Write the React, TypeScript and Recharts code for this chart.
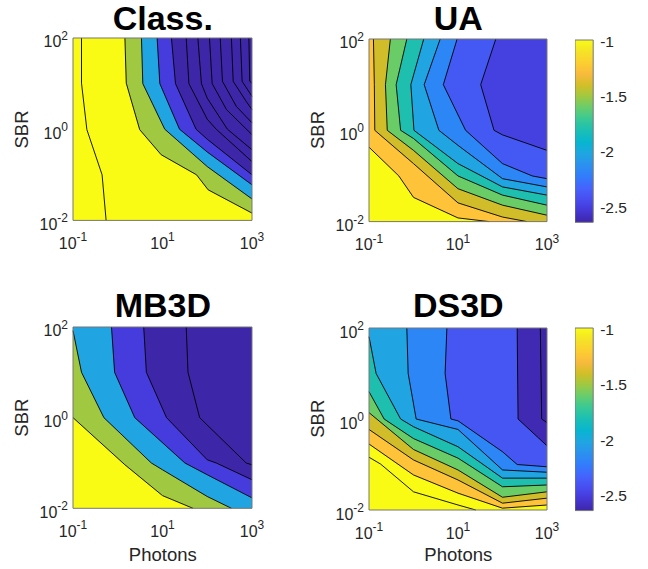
import React from 'react';
import { ComposedChart, Area, Line, XAxis, YAxis } from 'recharts';

// axis ticks (log10 exponents)
const xTicks = [-1, 1, 3];
const yTicks = [-2, 0, 2];
const cbTicks = [-2.5, -2, -1.5, -1];
const cbRange = [-2.637, -0.988];

// parula colours
const Y = '#F9FB15';
const OR = '#FEC338';
const OL = '#D1BD29';
const GR = '#6ACC66';
const TE = '#1FBFB0';
const LB = '#20A5E2';
const AZ = '#2D86F6';
const BL = '#4656F3';
const DK = '#402AB4';
const DD = '#3E26A8';
const CG = '#A0C840';
const CB = '#463CDE';

// Class. contours [log10 photons, log10 SBR]
const classLines = [
  [[-0.81, 2], [-0.81, 1.01], [-0.69, -0.01], [-0.35, -1.0], [-0.26, -2]],
  [[0.16, 2], [0.19, 1.01], [0.49, -0.01], [0.97, -0.56], [1.76, -1.0], [2.02, -1.33], [3, -1.84]],
  [[0.53, 2], [0.56, 1.0], [1.05, 0], [2, -0.82], [3, -1.53]],
  [[0.88, 2], [0.94, 1.0], [1.38, 0], [2, -0.5], [3, -1.22]],
  [[1.2, 2], [1.29, 1.0], [1.75, 0], [2, -0.22], [3, -1.0]],
  [[1.53, 2], [1.59, 1.0], [2, 0.22], [2.2, 0], [3, -0.71]],
  [[1.79, 2], [1.87, 1.0], [2, 0.68], [2.45, 0], [3, -0.45]],
  [[2.05, 2], [2.11, 1.0], [2.43, 0.43], [3, -0.12]],
  [[2.29, 2], [2.34, 1.05], [2.65, 0.5], [3, 0.14]],
  [[2.54, 2], [2.58, 1.05], [2.87, 0.61], [3, 0.43]],
  [[2.74, 2], [2.78, 1.05], [3, 0.72]],
  [[2.93, 2], [2.95, 1.05], [3, 1.01]],
];
const classColors = [Y, CG, LB, CB, DD, DD, DD, DD, DD, DD, DD, DD];

// UA contours
const uaLines = [
  [[-1, -0.37], [-0.33, -1.0], [0, -1.47], [1, -1.92], [1.7, -2]],
  [[-0.9, 2], [-0.88, 1.0], [-0.87, 0], [0, -0.73], [1, -1.59], [2, -1.9], [2.55, -2]],
  [[-0.52, 2], [-0.63, 1.0], [-0.59, 0], [0, -0.44], [1, -1.28], [2, -1.64], [3, -1.86]],
  [[-0.15, 2], [-0.39, 1.0], [-0.29, 0], [0, -0.18], [1, -1.0], [2, -1.42], [3, -1.64]],
  [[0.23, 2], [-0.06, 1.0], [0.01, 0], [1, -0.73], [2, -1.24], [3, -1.42]],
  [[0.6, 2], [0.24, 1.0], [0.57, 0], [1, -0.33], [2, -1.06], [3, -1.24]],
  [[0.98, 2], [0.67, 1.0], [1.17, 0], [2, -0.73], [2.67, -1.0], [3, -1.06]],
  [[1.85, 2], [1.51, 1.0], [1.81, 0], [2, -0.1], [3, -0.44]],
];
const uaColors = [OR, OL, GR, TE, LB, AZ, '#4459F3', '#4541E0'];

// MB3D contours
const mbLines = [
  [[-1, 0], [0.16, -1.04], [1, -1.72], [1.68, -2]],
  [[-1, 1.92], [-0.81, 1.0], [-0.31, 0], [0.75, -1.0], [1, -1.15], [2, -1.74], [2.54, -2]],
  [[-0.14, 2], [-0.07, 1.0], [0.38, 0], [1.5, -1.0], [2, -1.26], [3, -1.77]],
  [[0.58, 2], [0.64, 1.0], [1.09, 0], [2, -0.93], [2.2, -1.0], [3, -1.37]],
  [[1.53, 2], [1.57, 1.0], [1.83, 0], [2.87, -1.0], [3, -1.04]],
];
const mbColors = [CG, LB, CB, DD, DD];

// DS3D contours
const dsLines = [
  [[-1, -0.84], [-0.74, -0.99], [0, -1.6], [1, -1.89], [1.4, -2]],
  [[-1, -0.55], [0, -1.23], [1, -1.63], [2, -1.96], [3, -1.89]],
  [[-1, -0.23], [0, -0.9], [1, -1.34], [2, -1.85], [3, -1.74]],
  [[-1, 0.14], [0, -0.67], [1, -1.12], [2, -1.72], [3, -1.6]],
  [[-1, 0.6], [-0.66, 0], [0, -0.43], [1, -0.86], [2, -1.49], [3, -1.45]],
  [[-1, 1.81], [-0.84, 1.0], [-0.29, 0], [0, -0.17], [1, -0.61], [2, -1.3], [3, -1.3]],
  [[-0.15, 2], [-0.12, 1.0], [0.06, 0], [1, -0.23], [2, -1.12], [3, -1.17]],
  [[0.75, 2], [0.71, 1.0], [0.84, 0], [1, -0.04], [2, -0.72], [2.33, -1.0], [3, -1.05]],
  [[2.33, 2], [2.35, 0], [3, -0.59]],
  [[2.85, 2], [2.88, 0], [3, -0.08]],
];
const dsColors = [Y, OR, OL, GR, TE, LB, AZ, BL, DK, DD];

// parula, from top (high) to bottom (low)
const parulaStops = [
  '#F9FB15', '#F5E327', '#FCCF30', '#F8BA3D', '#D1BF27', '#9DC943', '#64CD6F', '#37C897', '#19BFB6',
  '#08B5D0', '#20A5E2', '#2B91EF', '#327CFC', '#4563FD', '#484DF0', '#4537D5', '#3E26A8',
];

const FONT = "'Liberation Sans', Arial, Helvetica, sans-serif";
const TXT = '#262626';
const BORDER = '#767676';

const toPts = (a: number[][]) => a.map(([x, y]) => ({ x, y }));
const toFill = (a: number[][]) => {
  const last = a[a.length - 1];
  const ext = last[1] <= -2 && last[0] < 3 ? [...a, [3, -2]] : a;
  return toPts(ext);
};
const boxPts = toPts([[-1, -2], [3, -2], [3, 2], [-1, 2], [-1, -2]]);
const bgPts = toPts([[-1, -2], [3, -2]]);

const XTick = (props: any) => {
  const { x, y, payload } = props;
  return (
    <text x={x} y={y + 28.5} textAnchor="middle" fontSize={16} fill={TXT} fontFamily={FONT}>
      <tspan>10</tspan>
      <tspan dy={-7.5} fontSize={12}>{String(payload.value)}</tspan>
    </text>
  );
};
const YTick = (props: any) => {
  const { x, y, payload } = props;
  return (
    <text x={x - 5} y={y + 9.5} textAnchor="end" fontSize={16} fill={TXT} fontFamily={FONT}>
      <tspan>10</tspan>
      <tspan dy={-7.5} fontSize={12}>{String(payload.value)}</tspan>
    </text>
  );
};
const CbTick = (props: any) => {
  const { x, y, payload } = props;
  return (
    <text x={x + 7} y={y + 5.5} textAnchor="start" fontSize={15.5} fill={TXT} fontFamily={FONT}>
      {String(payload.value)}
    </text>
  );
};

type Pos = { left: number; top: number; w: number; h: number };

function ContourPanel({ lines, colors, base, pos }: { lines: number[][][]; colors: string[]; base: string; pos: Pos }) {
  const ML = 73, MT = 10, MR = 24, XH = 45;
  return (
    <div style={{ position: 'absolute', left: pos.left - ML, top: pos.top - MT }}>
      <ComposedChart width={ML + pos.w + MR} height={MT + pos.h + XH} margin={{ top: MT, right: MR, bottom: 0, left: 0 }}>
        <XAxis type="number" dataKey="x" domain={[-1, 3]} ticks={xTicks} interval={0} tick={<XTick />}
          tickSize={0} tickMargin={0} axisLine={false} tickLine={false} height={XH} />
        <YAxis type="number" dataKey="y" domain={[-2, 2]} ticks={yTicks} interval={0} tick={<YTick />}
          tickSize={0} tickMargin={0} axisLine={false} tickLine={false} width={ML} />
        <Area data={bgPts} dataKey="y" type="linear" baseValue={2} fill={base} fillOpacity={1} stroke="none"
          isAnimationActive={false} dot={false} activeDot={false} />
        {lines.map((l, i) => (
          <Area key={'a' + i} data={toFill(l)} dataKey="y" type="linear" baseValue={2} fill={colors[i]} fillOpacity={1}
            stroke="none" isAnimationActive={false} dot={false} activeDot={false} />
        ))}
        {lines.map((l, i) => (
          <Line key={'l' + i} data={toPts(l)} dataKey="y" type="linear" stroke="#000" strokeWidth={0.9}
            dot={false} activeDot={false} isAnimationActive={false} />
        ))}
        <Line data={boxPts} dataKey="y" type="linear" stroke={BORDER} strokeWidth={1} dot={false} activeDot={false}
          isAnimationActive={false} />
      </ComposedChart>
    </div>
  );
}

function ColorBar({ pos, id }: { pos: Pos; id: string }) {
  const MT = 10, MB = 10, YW = 50;
  const fill = toPts([[0, cbRange[0]], [1, cbRange[0]]]);
  const border = toPts([[0, cbRange[0]], [1, cbRange[0]], [1, cbRange[1]], [0, cbRange[1]], [0, cbRange[0]]]);
  return (
    <div style={{ position: 'absolute', left: pos.left, top: pos.top - MT }}>
      <ComposedChart width={pos.w + YW} height={pos.h + MT + MB} margin={{ top: MT, right: 0, bottom: MB, left: 0 }}>
        <defs>
          <linearGradient id={id} x1="0" y1="0" x2="0" y2="1">
            {parulaStops.map((c, i) => (
              <stop key={i} offset={i / (parulaStops.length - 1)} stopColor={c} />
            ))}
          </linearGradient>
        </defs>
        <XAxis type="number" dataKey="x" domain={[0, 1]} hide height={0} />
        <YAxis type="number" dataKey="y" orientation="right" domain={cbRange} ticks={cbTicks} interval={0}
          width={YW} tick={<CbTick />} axisLine={false} tickLine={false} tickSize={0} tickMargin={0} />
        <Area data={fill} dataKey="y" type="linear" baseValue={cbRange[1]} fill={`url(#${id})`} fillOpacity={1}
          stroke="none" isAnimationActive={false} dot={false} activeDot={false} />
        <Line data={border} dataKey="y" type="linear" stroke={BORDER} strokeWidth={1} dot={false} activeDot={false}
          isAnimationActive={false} />
      </ComposedChart>
    </div>
  );
}

const posTL: Pos = { left: 73.3, top: 38.3, w: 179, h: 182.4 };
const posTR: Pos = { left: 369.3, top: 38.7, w: 178, h: 182.6 };
const posBL: Pos = { left: 73.3, top: 327, w: 179, h: 181.3 };
const posBR: Pos = { left: 369.3, top: 327.7, w: 178, h: 182 };
const cbTop: Pos = { left: 574.5, top: 40, w: 18.2, h: 182.3 };
const cbBot: Pos = { left: 574.5, top: 327.7, w: 18.2, h: 182.6 };

const titles = ['Class.', 'UA', 'MB3D', 'DS3D'];

export default function App() {
  const panels = [posTL, posTR, posBL, posBR];
  return (
    <div style={{ position: 'absolute', left: 0, top: 0, width: 648, height: 569, background: '#fff', overflow: 'hidden' }}>
      <ContourPanel lines={classLines} colors={classColors} base={Y} pos={posTL} />
      <ContourPanel lines={uaLines} colors={uaColors} base={Y} pos={posTR} />
      <ContourPanel lines={mbLines} colors={mbColors} base={Y} pos={posBL} />
      <ContourPanel lines={dsLines} colors={dsColors} base={Y} pos={posBR} />
      <ColorBar pos={cbTop} id="parulaTop" />
      <ColorBar pos={cbBot} id="parulaBot" />
      <svg width={648} height={569} style={{ position: 'absolute', left: 0, top: 0, pointerEvents: 'none' }}>
        {panels.map((p, i) => (
          <text key={'t' + i} x={p.left + p.w / 2} y={i < 2 ? 29.5 : 317.3} textAnchor="middle" fontSize={34}
            fontWeight="bold" fill="#000" fontFamily={FONT}>{titles[i]}</text>
        ))}
        {panels.map((p, i) => {
          const cx = p.left - 45.6;
          const cy = p.top + p.h / 2;
          return (
            <text key={'s' + i} x={cx} y={cy} textAnchor="middle" fontSize={18.5} fill={TXT} fontFamily={FONT}
              transform={`rotate(-90 ${cx} ${cy})`}>SBR</text>
          );
        })}
        {[posBL, posBR].map((p, i) => (
          <text key={'p' + i} x={p.left + p.w / 2} y={561} textAnchor="middle" fontSize={18.5} fill={TXT}
            fontFamily={FONT}>Photons</text>
        ))}
      </svg>
    </div>
  );
}
